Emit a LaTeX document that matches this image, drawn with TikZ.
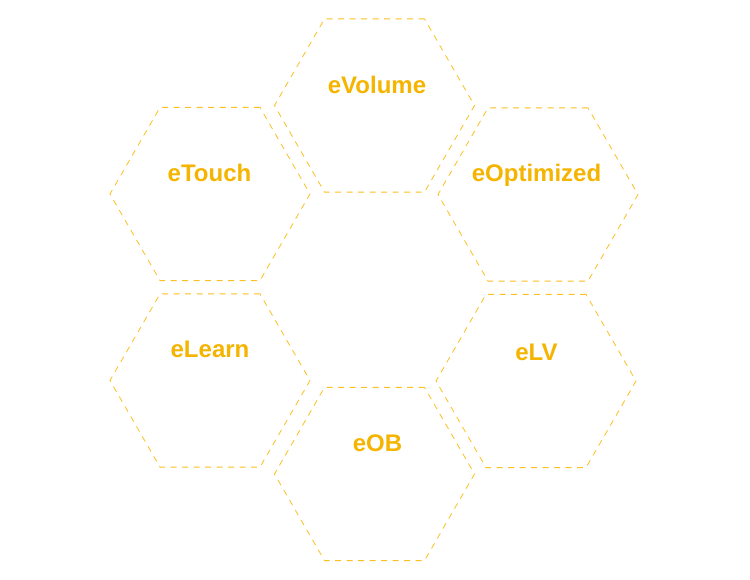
\documentclass[tikz,border=0pt]{standalone}
\usepackage{fontspec}
\setmainfont{Liberation Sans}
\usetikzlibrary{shapes.geometric}
\definecolor{hexline}{RGB}{250,192,30}
\definecolor{hextext}{RGB}{245,180,0}
\tikzset{
  hexcell/.style={regular polygon, regular polygon sides=6, minimum size=200pt,
    inner sep=0pt, draw=hexline, line width=0.8pt, dash pattern=on 6pt off 5.5pt},
  hexlabel/.style={anchor=base, text=hextext, inner sep=0pt,
    font=\fontsize{24}{28}\selectfont\bfseries}
}
\begin{document}
\begin{tikzpicture}[x=1pt,y=-1pt]
\useasboundingbox (0,0) rectangle (750,580);
\node[hexcell] (hvol) at (374.5,105.5) {};
\node[hexcell] (htou) at (210,194) {};
\node[hexcell] (hopt) at (538,194.5) {};
\node[hexcell] (hlea) at (210,380.5) {};
\node[hexcell] (hlv)  at (536,381) {};
\node[hexcell] (hob)  at (374.5,474) {};
\node[hexlabel] (tvol) at (377,94) {eVolume};
\node[hexlabel] (ttou) at (209.5,182) {eTouch};
\node[hexlabel] (topt) at (536.5,182) {eOptimized};
\node[hexlabel] (tlea) at (210,357) {eLearn};
\node[hexlabel] (tlv)  at (536.5,360) {eLV};
\node[hexlabel] (tob)  at (377.5,451) {eOB};
\end{tikzpicture}
\end{document}
